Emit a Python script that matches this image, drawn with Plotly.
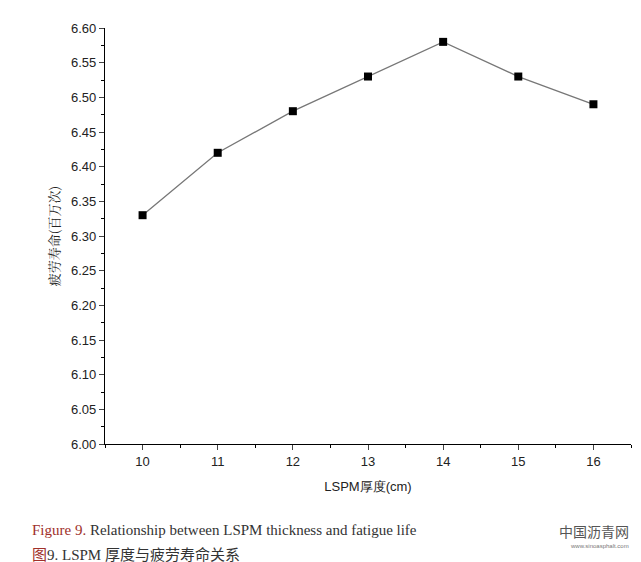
import plotly.graph_objects as go

thickness = [10, 11, 12, 13, 14, 15, 16]
fatigue_life = [6.33, 6.42, 6.48, 6.53, 6.58, 6.53, 6.49]
y_ticks = [round(6.00 + 0.05 * i, 2) for i in range(13)]

fig = go.Figure()
fig.add_trace(go.Scatter(
    x=thickness, y=fatigue_life, mode='lines+markers',
    line=dict(color='#777777', width=1.3),
    marker=dict(symbol='square', size=8, color='black'),
))

axis_font = dict(family='Liberation Sans, Arial', size=13, color='#222222')
fig.update_layout(
    width=641, height=562,
    margin=dict(l=97, r=18, t=20, b=126),
    plot_bgcolor='white', paper_bgcolor='white',
    showlegend=False,
    xaxis=dict(range=[9.5, 16.5], tickvals=thickness, ticks='outside', ticklen=5,
               showline=True, linecolor='black', linewidth=1.2, showgrid=False,
               zeroline=False, tickfont=axis_font, automargin=False,
               minor=dict(dtick=0.5, ticks='outside', ticklen=3, tickcolor='black'),
               title=dict(text='LSPM厚度(cm)', font=axis_font, standoff=14)),
    yaxis=dict(range=[6.0, 6.6], tickvals=y_ticks, ticktext=['%.2f' % v for v in y_ticks],
               ticks='outside', ticklen=5, automargin=False,
               showline=True, linecolor='black', linewidth=1.2, showgrid=False,
               zeroline=False, tickfont=axis_font,
               minor=dict(dtick=0.025, ticks='outside', ticklen=3, tickcolor='black'),
               title=dict(text='疲劳寿命(百万次)', font=dict(family='Noto Serif CJK SC, Noto Sans CJK SC', size=13, color='#222222'), standoff=8)),
)

fig.add_annotation(x=-0.143, y=-0.207, xref='paper', yref='paper', yanchor='middle', xanchor='left',
                   text="<span style='color:#a0302a'>Figure 9.</span> Relationship between LSPM thickness and fatigue life",
                   showarrow=False, font=dict(family='Liberation Serif', size=15, color='#333333'))
fig.add_annotation(x=-0.143, y=-0.265, xref='paper', yref='paper', yanchor='middle', xanchor='left',
                   text="<span style='color:#a0302a'>图</span>9. LSPM 厚度与疲劳寿命关系",
                   showarrow=False, font=dict(family='Liberation Serif, Noto Sans CJK SC', size=15, color='#333333'))
fig.add_annotation(x=1.0, y=-0.21, xref='paper', yref='paper', xanchor='right', yanchor='middle',
                   text='中国沥青网', showarrow=False,
                   font=dict(family='Noto Sans CJK SC', size=14, color='#555555'))
fig.add_annotation(x=1.0, y=-0.245, xref='paper', yref='paper', xanchor='right', yanchor='middle',
                   text='www.sinoasphalt.com', showarrow=False,
                   font=dict(family='Liberation Sans', size=6, color='#777777'))

fig.write_html('out.html')
